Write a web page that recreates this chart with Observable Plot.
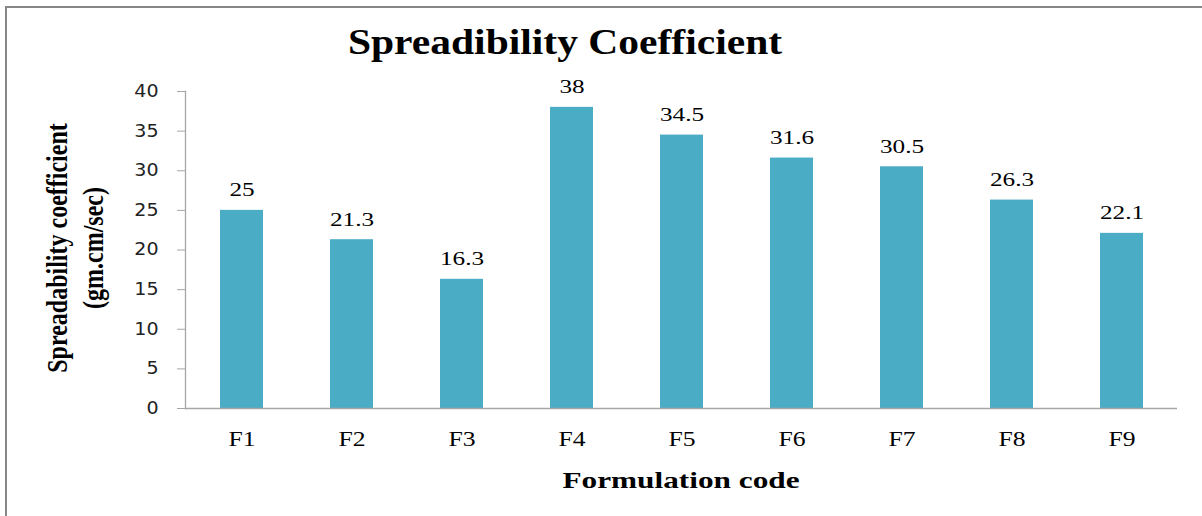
<!DOCTYPE html>
<html>
<head>
<meta charset="utf-8">
<script src="https://cdn.jsdelivr.net/npm/d3@7"></script>
<script src="https://cdn.jsdelivr.net/npm/@observablehq/plot@0.6"></script>
<style>
  body { margin: 0; background: #fff; }
  #wrap { position: relative; width: 1202px; height: 516px; overflow: hidden; background: #fff; }
  #border { position: absolute; left: 5px; top: 6px; width: 1400px; height: 700px; border: 2px solid #878787; box-sizing: border-box; }
  #chart { position: absolute; left: 0; top: 0; }
  .t { position: absolute; white-space: nowrap; font-family: "Liberation Serif", "Times New Roman", serif; font-weight: bold; color: #000; text-align: center; }
  #title { left: 0; width: 1130px; top: 25px; font-size: 35.5px; line-height: 35.5px; transform: scaleX(1.17); }
  #xlabel { left: 0; width: 1362px; top: 469px; font-size: 23px; line-height: 23px; transform: scaleX(1.36); }
  #ylabel { left: -125px; top: 212px; width: 400px; height: 72px; font-size: 30px; line-height: 36px; transform: rotate(-90deg) scaleX(0.8); }
</style>
</head>
<body>
<div id="wrap">
  <div id="border"></div>
  <div id="chart"></div>
  <div class="t" id="title">Spreadibility Coefficient</div>
  <div class="t" id="ylabel">Spreadability coefficient<br>(gm.cm/sec)</div>
  <div class="t" id="xlabel">Formulation code</div>
</div>
<script>
const categories = ["F1", "F2", "F3", "F4", "F5", "F6", "F7", "F8", "F9"];
const values = [25, 21.3, 16.3, 38, 34.5, 31.6, 30.5, 26.3, 22.1];
const yTicks = [0, 5, 10, 15, 20, 25, 30, 35, 40];

const data = categories.map((c, i) => ({code: c, value: values[i]}));

const plot = Plot.plot({
  width: 1202,
  height: 516,
  marginTop: 91,
  marginBottom: 108,
  marginLeft: 185,
  marginRight: 25,
  style: {background: "transparent", overflow: "visible"},
  x: {domain: categories, paddingInner: 0.61, paddingOuter: 0.31, align: 0.5, label: null},
  y: {domain: [0, 40], label: null},
  marks: [
    Plot.barY(data, {x: "code", y: "value", fill: "#4BACC6"}),
    Plot.ruleY([0], {stroke: "#a6a6a6", strokeWidth: 1.3}),
    Plot.frame({anchor: "left", stroke: "#a6a6a6", strokeWidth: 1.3}),
    Plot.axisY({ticks: yTicks, tickSize: 8, tickPadding: 19, stroke: "#a6a6a6", fill: "#222", fontSize: 17, fontFamily: "DejaVu Sans", label: null}),
    Plot.axisX({tickSize: 0, tickPadding: 23, fontSize: 21, fontFamily: "Liberation Serif", fill: "#000", label: null}),
    Plot.text(data, {x: "code", y: "value", text: d => String(d.value), lineAnchor: "bottom", dy: -14, fontSize: 18, fontFamily: "Liberation Serif", fill: "#000"})
  ]
});
document.getElementById("chart").append(plot);

function stretch(sel, f) {
  plot.querySelectorAll(sel).forEach(t => {
    const L = t.getComputedTextLength();
    t.setAttribute("textLength", L * f);
    t.setAttribute("lengthAdjust", "spacingAndGlyphs");
  });
}
stretch('g[aria-label="text"] text', 1.4);
stretch('g[aria-label="x-axis tick label"] text', 1.22);
stretch('g[aria-label="y-axis tick label"] text', 1.12);
</script>
</body>
</html>
